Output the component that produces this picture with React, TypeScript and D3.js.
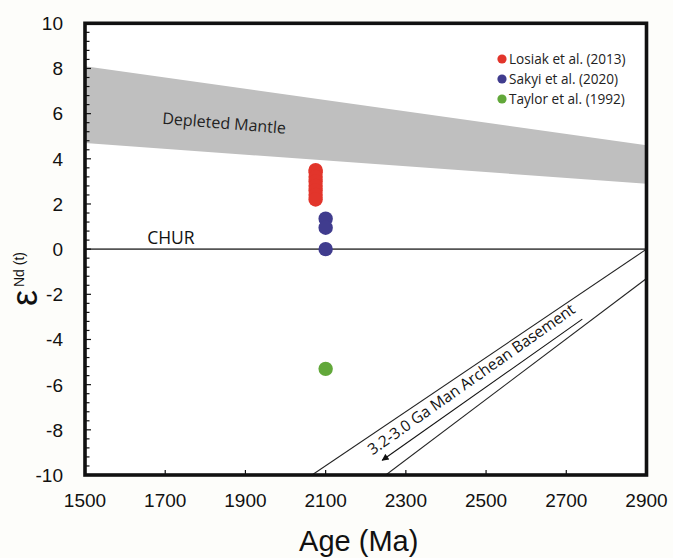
import React from "react";
import * as d3 from "d3";

// Sample εNd(t) values by reference
const losiakAge = 2075;
const losiakEps = [3.5, 3.4, 3.2, 3.0, 2.8, 2.6, 2.4, 2.2];
const sakyiAge = 2100;
const sakyiEps = [1.35, 0.95, 0.0];
const taylorAge = 2100;
const taylorEps = [-5.3];

const seriesNames = ["Losiak et al. (2013)", "Sakyi et al. (2020)", "Taylor et al. (1992)"];
const seriesColors = ["#e2352b", "#403c8e", "#62a83a"];

// Depleted mantle envelope: [age, upper, lower]
const mantleAges = [1500, 2900];
const mantleUpper = [8.1, 4.6];
const mantleLower = [4.7, 2.9];

// Crustal evolution lines for the Man Archean basement
const basementUpper: [number, number][] = [[2900, 0], [2066, -10]];
const basementLower: [number, number][] = [[2900, -1.3], [2250, -10]];
const basementArrow: [number, number][] = [[2740, -3.1], [2241, -9.35]];

const xTicks = [1500, 1700, 1900, 2100, 2300, 2500, 2700, 2900];
const yTicks = [10, 8, 6, 4, 2, 0, -2, -4, -6, -8, -10];

const W = 673;
const H = 558;
const left = 85;
const right = 646.5;
const top = 23.3;
const bottom = 475;

export default function App() {
  const x = d3.scaleLinear().domain([1500, 2900]).range([left, right]);
  const y = d3.scaleLinear().domain([-10, 10]).range([bottom, top]);

  const line = d3
    .line<[number, number]>()
    .x((d) => x(d[0]))
    .y((d) => y(d[1]));

  const band = d3
    .area<number>()
    .x((_, i) => x(mantleAges[i]))
    .y0((_, i) => y(mantleLower[i]))
    .y1((_, i) => y(mantleUpper[i]));

  const minorY = d3.range(-10, 10.001, 0.4).map((v) => Math.round(v * 10) / 10);

  const series = [
    losiakEps.map((e) => [losiakAge, e]),
    sakyiEps.map((e) => [sakyiAge, e]),
    taylorEps.map((e) => [taylorAge, e]),
  ];

  const ann = "'Open Sans', 'Noto Sans', sans-serif";
  const arial = "'Liberation Sans', Arial, sans-serif";

  const arrowAngle =
    (Math.atan2(
      y(basementArrow[1][1]) - y(basementArrow[0][1]),
      x(basementArrow[1][0]) - x(basementArrow[0][0])
    ) *
      180) /
    Math.PI;

  // baseline start of the basement label, just above the arrow
  const labelStart = [x(2217), y(-9.14)];

  return (
    <svg
      width={W}
      height={H}
      style={{ position: "absolute", left: 0, top: 0, background: "#fdfdfa" }}
    >
      <defs>
        <clipPath id="plot">
          <rect x={left} y={top} width={right - left} height={bottom - top} />
        </clipPath>
        <marker
          id="arrowhead"
          viewBox="0 0 10 10"
          refX="9"
          refY="5"
          markerWidth="9"
          markerHeight="7"
          markerUnits="userSpaceOnUse"
          orient="auto"
        >
          <path d="M0,0 L10,5 L0,10 z" fill="#111" />
        </marker>
      </defs>

      <rect x={left} y={top} width={right - left} height={bottom - top} fill="#ffffff" />

      <g clipPath="url(#plot)">
        <path d={band(mantleAges) ?? ""} fill="#bfbfbf" />
        <line x1={x(1500)} x2={x(2900)} y1={y(0)} y2={y(0)} stroke="#555" strokeWidth={1.6} />
        <path d={line(basementUpper) ?? ""} stroke="#222" strokeWidth={1.1} fill="none" />
        <path d={line(basementLower) ?? ""} stroke="#222" strokeWidth={1.1} fill="none" />
      </g>

      <path
        d={line(basementArrow) ?? ""}
        stroke="#111"
        strokeWidth={1.1}
        fill="none"
        markerEnd="url(#arrowhead)"
      />

      <text
        transform={`translate(${labelStart[0]},${labelStart[1]}) rotate(${arrowAngle + 180})`}
        fontFamily={ann}
        fontSize={15.5}
        fill="#111"
      >
        3.2-3.0 Ga Man Archean Basement
      </text>

      <text
        transform={`translate(${x(1692)},${y(5.55)}) rotate(4.6)`}
        fontFamily={ann}
        fontSize={16}
        fill="#222"
      >
        Depleted Mantle
      </text>

      <text x={x(1655)} y={y(0) - 5} fontFamily={ann} fontSize={17.5} fill="#111">
        CHUR
      </text>

      {series.map((pts, si) =>
        pts.map((p, i) => (
          <circle
            key={`${si}-${i}`}
            cx={x(p[0])}
            cy={y(p[1])}
            r={7.2}
            fill={seriesColors[si]}
          />
        ))
      )}

      {/* frame */}
      <rect
        x={left}
        y={top}
        width={right - left}
        height={bottom - top}
        fill="none"
        stroke="#111"
        strokeWidth={3.6}
      />

      {/* y ticks */}
      {minorY.map((v) => (
        <line
          key={`ym${v}`}
          x1={left}
          x2={left + (yTicks.includes(v) ? 6 : 4.5)}
          y1={y(v)}
          y2={y(v)}
          stroke="#111"
          strokeWidth={1.2}
        />
      ))}
      {yTicks.map((v) => (
        <text
          key={`yl${v}`}
          x={63}
          y={y(v)}
          dy="0.36em"
          textAnchor="end"
          fontFamily={arial}
          fontSize={19}
          fill="#111"
        >
          {v}
        </text>
      ))}

      {/* x ticks */}
      {xTicks.map((v) => (
        <g key={`x${v}`}>
          <line x1={x(v)} x2={x(v)} y1={bottom} y2={bottom - 5} stroke="#111" strokeWidth={1.2} />
          <text
            x={x(v)}
            y={507}
            textAnchor="middle"
            fontFamily={arial}
            fontSize={19}
            fill="#111"
          >
            {v}
          </text>
        </g>
      ))}

      <text
        x={(left + right) / 2 - 7}
        y={551}
        textAnchor="middle"
        fontFamily={arial}
        fontSize={29}
        fill="#111"
      >
        Age (Ma)
      </text>

      {/* y axis title */}
      <g transform="translate(37,306) rotate(-90)">
        <text x={0} y={0} fontFamily={arial} fontSize={36} fill="#111">
          ε
        </text>
        <text x={19} y={-13} fontFamily={arial} fontSize={14} fill="#111">
          Nd (t)
        </text>
      </g>

      {/* legend */}
      {seriesNames.map((name, i) => (
        <g key={name} transform={`translate(502,${59 + i * 20})`}>
          <circle cx={0} cy={0} r={4.6} fill={seriesColors[i]} />
          <text x={7} y={4.8} fontFamily={ann} fontSize={13.6} fill="#222">
            {name}
          </text>
        </g>
      ))}
    </svg>
  );
}
